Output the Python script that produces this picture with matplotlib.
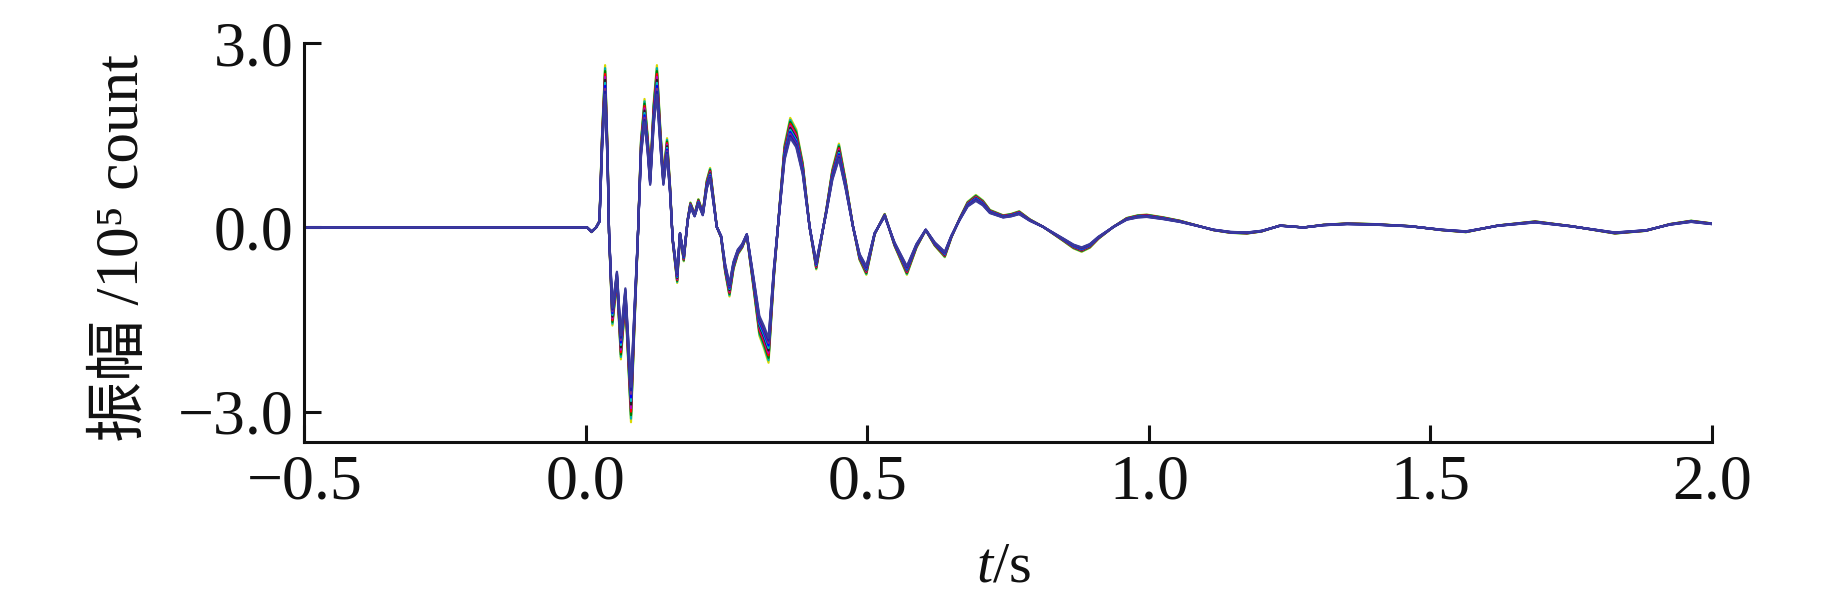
import matplotlib
matplotlib.use("Agg")
import matplotlib.pyplot as plt

# waveform: time (s) and amplitude (1e5 count)
t = [-0.5, 0.0, 0.002, 0.010, 0.018, 0.024, 0.0284, 0.034, 0.0385, 0.041,
     0.047, 0.055, 0.062, 0.070, 0.080, 0.086, 0.092, 0.0978, 0.104, 0.1096,
     0.114, 0.1203, 0.126, 0.1322, 0.1375, 0.144, 0.1494, 0.154, 0.162, 0.167,
     0.1737, 0.1807, 0.1855, 0.193, 0.1997, 0.2075, 0.2146, 0.2205, 0.2264, 0.2323,
     0.240, 0.2472, 0.2549, 0.262, 0.2697, 0.2775, 0.2857, 0.2964, 0.308, 0.316,
     0.3243, 0.3337, 0.344, 0.3527, 0.3628, 0.3735, 0.385, 0.3972, 0.409, 0.427,
     0.4376, 0.4493, 0.4612, 0.4742, 0.486, 0.498, 0.5128, 0.5306, 0.548, 0.570,
     0.587, 0.6035, 0.6195, 0.6373, 0.649, 0.664, 0.678, 0.6925, 0.705, 0.7174,
     0.741, 0.755, 0.7695, 0.7885, 0.812, 0.8478, 0.866, 0.8805, 0.895, 0.910,
     0.937, 0.9605, 0.980, 0.996, 1.0256, 1.055, 1.085, 1.1146, 1.145, 1.174,
     1.200, 1.233, 1.2747, 1.310, 1.352, 1.400, 1.464, 1.520, 1.563, 1.620,
     1.686, 1.750, 1.8276, 1.883, 1.925, 1.963, 2.0]
amp = [0.0, 0.0, 0.0, -0.07, 0.0, 0.10, 1.35, 2.40, 1.10, -0.09,
       -1.45, -0.80, -1.95, -1.10, -2.88, -1.50, -0.20, 1.30, 1.90, 1.35,
       0.77, 1.85, 2.40, 1.45, 0.77, 1.32, 0.61, -0.20, -0.82, -0.10,
       -0.50, 0.12, 0.37, 0.20, 0.42, 0.22, 0.70, 0.88, 0.45, 0.01,
       -0.15, -0.66, -1.02, -0.62, -0.40, -0.30, -0.12, -0.82, -1.60, -1.78,
       -2.00, -0.75, 0.33, 1.22, 1.62, 1.45, 0.96, 0.01, -0.62, 0.27,
       0.86, 1.24, 0.70, 0.02, -0.48, -0.70, -0.10, 0.20, -0.27, -0.70,
       -0.30, -0.04, -0.27, -0.44, -0.15, 0.14, 0.38, 0.48, 0.40, 0.26,
       0.18, 0.20, 0.24, 0.12, 0.01, -0.20, -0.31, -0.36, -0.30, -0.17,
       0.01, 0.14, 0.18, 0.19, 0.15, 0.10, 0.03, -0.04, -0.08, -0.09,
       -0.06, 0.03, 0.0, 0.04, 0.06, 0.05, 0.02, -0.04, -0.07, 0.03,
       0.09, 0.02, -0.09, -0.05, 0.05, 0.10, 0.06]

# relative gain of each overlaid trace and its colour
gains = [1.10, 1.08, 1.06, 1.04, 1.02, 1.00, 0.98, 0.96, 0.94, 0.92, 0.90]
colors = ["#d8d800", "#00b0b0", "#008000", "#ff0000", "#c000c0", "#202020",
          "#00c0c0", "#0000ff", "#7e2f8e", "#2020a0", "#3b3b9b"]

xticks = [-0.5, 0.0, 0.5, 1.0, 1.5, 2.0]
xticklabels = ["\u22120.5", "0.0", "0.5", "1.0", "1.5", "2.0"]
yticks = [-3.0, 0.0, 3.0]
yticklabels = ["\u22123.0", "0.0", "3.0"]

plt.rcParams['font.family'] = ['Liberation Serif', 'DejaVu Serif', 'Noto Sans CJK SC']
plt.rcParams['mathtext.fontset'] = 'custom'
plt.rcParams['mathtext.rm'] = 'Liberation Serif'
plt.rcParams['mathtext.it'] = 'Liberation Serif:italic'

fig = plt.figure(figsize=(18.43, 5.91), dpi=100)
ax = fig.add_axes([0.1652, 0.2521, 0.7637, 0.6751])

for g, c in zip(gains, colors):
    ax.plot(t, [a * g for a in amp], color=c, lw=1.6)

ax.set_xlim(-0.5, 2.0)
ax.set_ylim(-3.49, 3.0)
ax.set_xticks(xticks)
ax.set_xticklabels(xticklabels)
ax.set_yticks(yticks)
ax.set_yticklabels(yticklabels)

ax.spines['top'].set_visible(False)
ax.spines['right'].set_visible(False)
for s in ['left', 'bottom']:
    ax.spines[s].set_linewidth(2.2)
    ax.spines[s].set_color('#111111')
ax.tick_params(direction='in', length=12, width=2.2, color='#111111',
               labelsize=46, labelcolor='#111111')
ax.tick_params(axis='x', pad=9)
ax.tick_params(axis='y', pad=8)

fig.text(138 / 1843, 1 - 247.5 / 591, "振幅 /10\u2075 count", rotation=90,
         rotation_mode='anchor', ha='center', va='baseline', fontsize=44,
         color='#111111')
fig.text(1004 / 1843, 1 - 582 / 591, "$t$/s", ha='center', va='baseline',
         fontsize=42, color='#111111')

fig.savefig("out.png", dpi=100)
